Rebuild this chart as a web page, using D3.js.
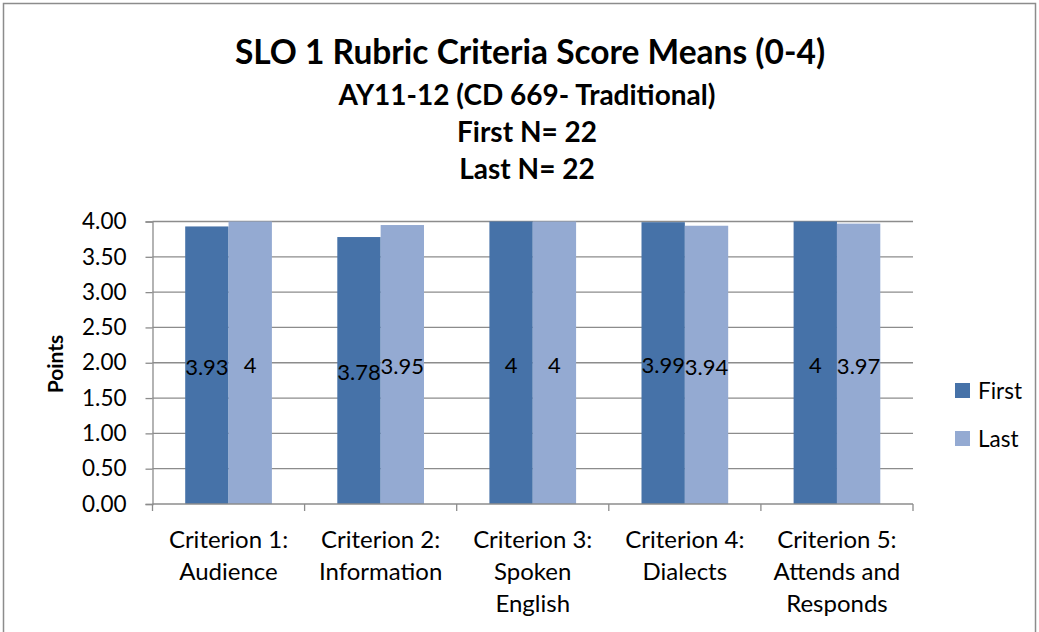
<!DOCTYPE html>
<html>
<head>
  <script src="https://cdn.jsdelivr.net/npm/d3@7/dist/d3.min.js"></script>
  <style>
    body { margin: 0; background: white; }
    svg { font-family: Lato, "Open Sans", sans-serif; }
  </style>
</head>
<body>
  <script>
    const categories = [
      ['Criterion 1:', 'Audience'],
      ['Criterion 2:', 'Information'],
      ['Criterion 3:', 'Spoken', 'English'],
      ['Criterion 4:', 'Dialects'],
      ['Criterion 5:', 'Attends and', 'Responds']
    ]
    const seriesNames = ['First', 'Last']
    const first = [3.93, 3.78, 4, 3.99, 4]
    const last = [4, 3.95, 4, 3.94, 3.97]
    const yTicks = [0, 0.5, 1, 1.5, 2, 2.5, 3, 3.5, 4]
    const colors = ['#4672a8', '#94aad2']
    const titleLines = ['AY11-12 (CD 669- Traditional)', 'First N= 22', 'Last N= 22']

    const width = 1039, height = 632
    const svg = d3.select('body').append('svg')
      .attr('width', width).attr('height', height)

    // chart frame
    svg.append('rect')
      .attr('x', 3.5).attr('y', 3.5)
      .attr('width', 1032).attr('height', 640)
      .attr('fill', 'none').attr('stroke', '#8c8c8c').attr('stroke-width', 1.5)

    const plotL = 152.5, plotR = 913, plotT = 221.5, plotB = 504

    const x = d3.scaleBand().domain(d3.range(categories.length))
      .range([plotL, plotR]).paddingInner(0.43).paddingOuter(0.215)
    const xs = d3.scaleBand().domain(seriesNames).range([0, x.bandwidth()])
    const y = d3.scaleLinear().domain([0, 4]).range([plotB, plotT])

    // gridlines
    svg.append('g').selectAll('line').data(yTicks.slice(1)).join('line')
      .attr('x1', plotL).attr('x2', plotR)
      .attr('y1', d => y(d)).attr('y2', d => y(d))
      .attr('stroke', '#8c8c8c').attr('stroke-width', 1.3)

    // y axis
    const yAxis = svg.append('g').attr('transform', `translate(${plotL},0)`)
      .call(d3.axisLeft(y).tickValues(yTicks).tickFormat(d3.format('.2f')).tickSize(7).tickPadding(19))
    yAxis.select('.domain').attr('stroke', '#8c8c8c').attr('stroke-width', 1.3)
    yAxis.selectAll('.tick line').attr('stroke', '#8c8c8c').attr('stroke-width', 1.3)
    yAxis.selectAll('.tick text').attr('font-size', 22.5).attr('fill', '#000')
      .attr('font-family', 'Lato, sans-serif')

    // bars
    const series = [first, last]
    const groups = svg.append('g').selectAll('g').data(categories).join('g')
      .attr('transform', (d, i) => `translate(${x(i)},0)`)
    groups.each(function (c, i) {
      const g = d3.select(this)
      seriesNames.forEach((s, k) => {
        const v = series[k][i]
        g.append('rect')
          .attr('x', xs(s)).attr('width', xs.bandwidth())
          .attr('y', y(v)).attr('height', y(0) - y(v))
          .attr('fill', colors[k])
        g.append('text')
          .attr('x', xs(s) + xs.bandwidth() / 2)
          .attr('y', (y(v) + y(0)) / 2)
          .attr('dy', '0.45em')
          .attr('text-anchor', 'middle')
          .attr('font-size', 22)
          .text(v)
      })
    })

    // x axis
    const xAxisG = svg.append('g')
    xAxisG.append('line').attr('x1', plotL).attr('x2', plotR)
      .attr('y1', plotB).attr('y2', plotB)
      .attr('stroke', '#8c8c8c').attr('stroke-width', 1.3)
    const step = (plotR - plotL) / categories.length
    xAxisG.selectAll('.tk').data(d3.range(categories.length + 1)).join('line')
      .attr('x1', d => plotL + d * step).attr('x2', d => plotL + d * step)
      .attr('y1', plotB).attr('y2', plotB + 7)
      .attr('stroke', '#8c8c8c').attr('stroke-width', 1.3)
    const labels = svg.append('g').selectAll('text').data(categories).join('text')
      .attr('x', (d, i) => x(i) + x.bandwidth() / 2)
      .attr('y', 548)
      .attr('text-anchor', 'middle')
      .attr('font-size', 24)
    labels.selectAll('tspan').data(d => d).join('tspan')
      .attr('x', function () { return this.parentNode.getAttribute('x') })
      .attr('dy', (d, j) => j === 0 ? 0 : 32)
      .text(d => d)

    // y title
    svg.append('text')
      .attr('transform', `translate(63,364) rotate(-90)`)
      .attr('text-anchor', 'middle')
      .attr('font-size', 21).attr('font-weight', 'bold')
      .text('Points')

    // titles
    svg.append('text').attr('x', 530).attr('y', 64)
      .attr('text-anchor', 'middle').attr('font-size', 33.5).attr('font-weight', 'bold')
      .text('SLO 1 Rubric Criteria Score Means (0-4)')
    svg.append('g').selectAll('text').data(titleLines).join('text')
      .attr('x', 527).attr('y', (d, i) => 105 + i * 37)
      .attr('text-anchor', 'middle').attr('font-size', 28).attr('font-weight', 'bold')
      .text(d => d)

    // legend
    const legend = svg.append('g').selectAll('g').data(seriesNames).join('g')
      .attr('transform', (d, i) => `translate(955,${383 + i * 48})`)
    legend.append('rect').attr('width', 15).attr('height', 15)
      .attr('fill', (d, i) => colors[i])
    legend.append('text').attr('x', 23).attr('y', 7.5).attr('dy', '0.36em')
      .attr('font-size', 22.5).text(d => d)
  </script>
</body>
</html>
